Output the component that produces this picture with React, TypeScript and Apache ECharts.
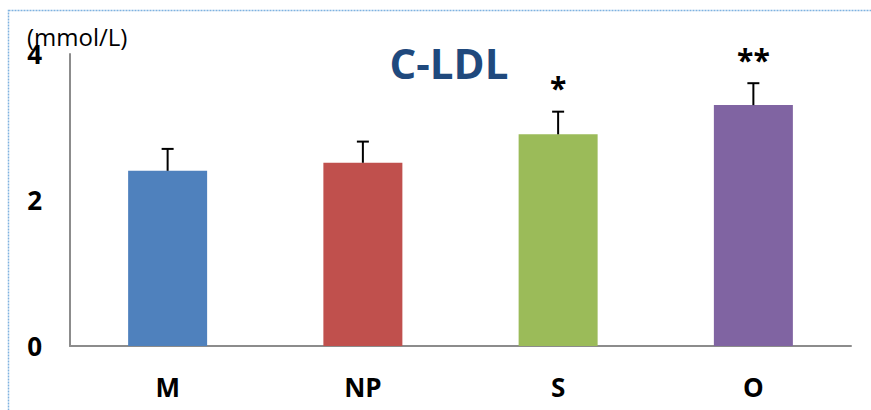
import React, { useEffect, useRef } from "react";
import * as echarts from "echarts";

const categories = ["M", "NP", "S", "O"];
const means = [2.4, 2.51, 2.9, 3.3];
const errors = [0.3, 0.29, 0.31, 0.3];
const stars = ["", "", "*", "**"];
const barColors = ["#4F81BD", "#C0504D", "#9BBB59", "#8064A2"];
const yTicks = [0, 2, 4];
const titleText = "C-LDL";
const unitText = "(mmol/L)";

const FONT = "'Open Sans', 'Liberation Sans', sans-serif";

export default function App() {
  const ref = useRef<HTMLDivElement>(null);
  useEffect(() => {
    if (!ref.current) return;
    const chart = echarts.init(ref.current, null, { renderer: "svg" });
    const errData = categories.map((c, i) => [i, means[i], means[i] + errors[i], stars[i]]);
    chart.setOption({
      animation: false,
      backgroundColor: "#ffffff",
      textStyle: { fontFamily: FONT },
      grid: { left: 70, right: 20, top: 54, bottom: 64, containLabel: false },
      title: {
        text: titleText,
        left: 444,
        top: 36,
        textAlign: "center",
        textStyle: { fontFamily: FONT, fontSize: 42, fontWeight: "bold", color: "#1F497D" },
      },
      graphic: [
        {
          type: "rect",
          shape: { x: 8.5, y: 10.5, width: 900, height: 500 },
          style: { fill: "none", stroke: "#7FB2E0", lineWidth: 1.5, lineDash: [2, 1] },
          silent: true,
        },
        {
          type: "text",
          x: 27,
          y: 24,
          style: { text: unitText, fontFamily: FONT, fontSize: 24, fill: "#000", textVerticalAlign: "top" },
          z: 10,
        },
      ],
      xAxis: {
        type: "category",
        data: categories,
        axisLine: { show: true, lineStyle: { color: "#8C8C8C", width: 2 } },
        axisTick: { show: false },
        axisLabel: { fontFamily: FONT, fontSize: 26, fontWeight: "bold", color: "#000", margin: 28 },
      },
      yAxis: {
        type: "value",
        min: yTicks[0],
        max: yTicks[yTicks.length - 1],
        interval: 2,
        splitLine: { show: false },
        axisLine: { show: true, lineStyle: { color: "#8C8C8C", width: 2 } },
        axisTick: { show: false },
        axisLabel: { fontFamily: FONT, fontSize: 26, fontWeight: "bold", color: "#000", margin: 28 },
      },
      series: [
        {
          type: "bar",
          barWidth: 79,
          data: means.map((v, i) => ({ value: v, itemStyle: { color: barColors[i] } })),
        },
        {
          type: "custom",
          data: errData,
          z: 5,
          renderItem: (params: any, api: any) => {
            const x = api.value(0);
            const lo = api.coord([x, api.value(1)]);
            const hi = api.coord([x, api.value(2)]);
            const star = stars[params.dataIndex];
            const cap = 6;
            const children: any[] = [
              { type: "line", shape: { x1: lo[0], y1: lo[1], x2: hi[0], y2: hi[1] }, style: { stroke: "#000", lineWidth: 2 } },
              { type: "line", shape: { x1: hi[0] - cap, y1: hi[1], x2: hi[0] + cap, y2: hi[1] }, style: { stroke: "#000", lineWidth: 2 } },
            ];
            if (star) {
              children.push({
                type: "text",
                x: hi[0],
                y: hi[1] - 9,
                style: {
                  text: star,
                  fontFamily: FONT,
                  fontSize: 30,
                  fontWeight: "bold",
                  fill: "#000",
                  textAlign: "center",
                  textVerticalAlign: "bottom",
                },
              });
            }
            return { type: "group", children };
          },
        },
      ],
    });
    return () => chart.dispose();
  }, []);
  return <div ref={ref} style={{ position: "absolute", left: 0, top: 0, width: 871, height: 410 }} />;
}
